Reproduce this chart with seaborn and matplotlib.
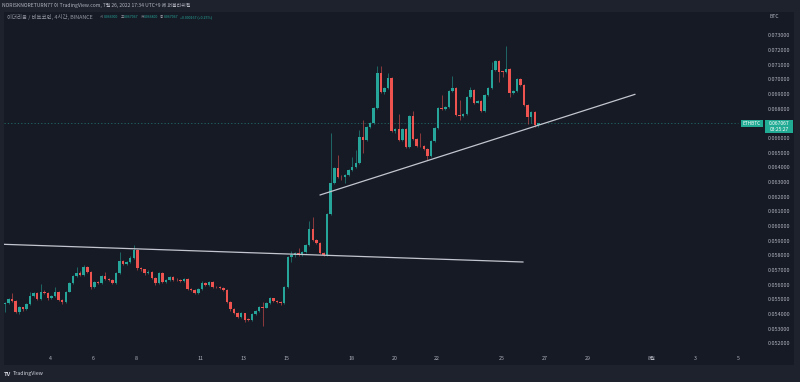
import numpy as np
import pandas as pd
import matplotlib
matplotlib.use("Agg")
import matplotlib.pyplot as plt
from matplotlib.patches import Rectangle
import seaborn as sns

# ---------------- data ----------------
start_time = "2022-07-01 21:00"   # first 4h candle (UTC+9)
n_candles = 150

opens = [0.05471, 0.05480, 0.05503, 0.05493, 0.05418, 0.05448, 0.05434, 0.05471, 0.05527, 0.05544,
         0.05505, 0.05555, 0.05544, 0.05510, 0.05525, 0.05555, 0.05498, 0.05486, 0.05555, 0.05616,
         0.05662, 0.05684, 0.05669, 0.05721, 0.05691, 0.05589, 0.05623, 0.05612, 0.05664, 0.05639,
         0.05634, 0.05616, 0.05680, 0.05764, 0.05742, 0.05755, 0.05783, 0.05839, 0.05714, 0.05708,
         0.05680, 0.05691, 0.05646, 0.05616, 0.05680, 0.05623, 0.05634, 0.05653, 0.05637, 0.05632,
         0.05630, 0.05639, 0.05573, 0.05566, 0.05548, 0.05571, 0.05612, 0.05600, 0.05623, 0.05589,
         0.05585, 0.05583, 0.05566, 0.05486, 0.05434, 0.05411, 0.05384, 0.05407, 0.05368, 0.05361,
         0.05402, 0.05425, 0.05449, 0.05445, 0.05475, 0.05510, 0.05493, 0.05486, 0.05475, 0.05589,
         0.05794, 0.05805, 0.05822, 0.05808, 0.05828, 0.05873, 0.05981, 0.05908, 0.05885, 0.05817,
         0.05805, 0.06085, 0.06299, 0.06397, 0.06340, 0.06335, 0.06351, 0.06385, 0.06408, 0.06435,
         0.06609, 0.06590, 0.06677, 0.06708, 0.06806, 0.07049, 0.06920, 0.06943, 0.07015, 0.06654,
         0.06665, 0.06590, 0.06663, 0.06544, 0.06754, 0.06597, 0.06549, 0.06547, 0.06527, 0.06483,
         0.06583, 0.06670, 0.06806, 0.06800, 0.06817, 0.06925, 0.06943, 0.06761, 0.06754, 0.06768,
         0.06886, 0.06931, 0.06845, 0.06856, 0.06790, 0.06897, 0.06947, 0.07068, 0.07129, 0.07056,
         0.07054, 0.07073, 0.06909, 0.06927, 0.07006, 0.06966, 0.06829, 0.06749, 0.06778, 0.06690]

closes = [0.05480, 0.05503, 0.05493, 0.05418, 0.05448, 0.05434, 0.05471, 0.05527, 0.05544, 0.05505,
          0.05555, 0.05544, 0.05510, 0.05525, 0.05555, 0.05498, 0.05486, 0.05555, 0.05616, 0.05662,
          0.05684, 0.05669, 0.05721, 0.05691, 0.05589, 0.05623, 0.05612, 0.05664, 0.05639, 0.05634,
          0.05616, 0.05680, 0.05764, 0.05742, 0.05755, 0.05783, 0.05839, 0.05714, 0.05708, 0.05680,
          0.05691, 0.05646, 0.05616, 0.05680, 0.05623, 0.05634, 0.05653, 0.05634, 0.05632, 0.05630,
          0.05639, 0.05573, 0.05566, 0.05548, 0.05571, 0.05612, 0.05600, 0.05623, 0.05589, 0.05585,
          0.05583, 0.05566, 0.05486, 0.05434, 0.05411, 0.05384, 0.05407, 0.05361, 0.05361, 0.05402,
          0.05425, 0.05449, 0.05445, 0.05475, 0.05510, 0.05493, 0.05486, 0.05475, 0.05589, 0.05794,
          0.05805, 0.05817, 0.05808, 0.05828, 0.05873, 0.05981, 0.05908, 0.05885, 0.05817, 0.05805,
          0.06085, 0.06299, 0.06397, 0.06340, 0.06335, 0.06351, 0.06385, 0.06408, 0.06435, 0.06609,
          0.06590, 0.06677, 0.06708, 0.06806, 0.07049, 0.06920, 0.06943, 0.07015, 0.06654, 0.06665,
          0.06590, 0.06663, 0.06544, 0.06754, 0.06597, 0.06549, 0.06547, 0.06527, 0.06483, 0.06583,
          0.06670, 0.06806, 0.06800, 0.06817, 0.06925, 0.06943, 0.06761, 0.06754, 0.06768, 0.06886,
          0.06931, 0.06845, 0.06856, 0.06790, 0.06897, 0.06947, 0.07068, 0.07129, 0.07056, 0.07054,
          0.07073, 0.06909, 0.06927, 0.07006, 0.06966, 0.06829, 0.06749, 0.06778, 0.06690, 0.067067]

highs = [0.05486, 0.05512, 0.05548, 0.05500, 0.05455, 0.05452, 0.05478, 0.05555, 0.05552, 0.05550,
         0.05607, 0.05566, 0.05550, 0.05530, 0.05590, 0.05562, 0.05505, 0.05562, 0.05622, 0.05670,
         0.05725, 0.05695, 0.05735, 0.05728, 0.05697, 0.05630, 0.05630, 0.05670, 0.05690, 0.05648,
         0.05640, 0.05686, 0.05828, 0.05770, 0.05762, 0.05800, 0.05873, 0.05845, 0.05722, 0.05712,
         0.05700, 0.05698, 0.05652, 0.05690, 0.05686, 0.05642, 0.05660, 0.05660, 0.05645, 0.05640,
         0.05646, 0.05645, 0.05580, 0.05572, 0.05578, 0.05630, 0.05620, 0.05630, 0.05628, 0.05595,
         0.05593, 0.05590, 0.05572, 0.05492, 0.05440, 0.05416, 0.05414, 0.05412, 0.05378, 0.05410,
         0.05432, 0.05460, 0.05486, 0.05482, 0.05518, 0.05515, 0.05500, 0.05492, 0.05596, 0.05800,
         0.05830, 0.05826, 0.05850, 0.05835, 0.05880, 0.06040, 0.06067, 0.05915, 0.05892, 0.05825,
         0.06092, 0.06636, 0.06405, 0.06488, 0.06348, 0.06358, 0.06392, 0.06476, 0.06522, 0.06658,
         0.06727, 0.06684, 0.06716, 0.06815, 0.07095, 0.07095, 0.06952, 0.07047, 0.07022, 0.06672,
         0.06768, 0.06670, 0.06670, 0.06762, 0.06788, 0.06604, 0.06640, 0.06555, 0.06534, 0.06590,
         0.06677, 0.06812, 0.06897, 0.06824, 0.06932, 0.07027, 0.06950, 0.06863, 0.06775, 0.06893,
         0.06954, 0.06938, 0.06863, 0.06862, 0.06904, 0.06954, 0.07125, 0.07135, 0.07136, 0.07062,
         0.07232, 0.07080, 0.06934, 0.07013, 0.07012, 0.06972, 0.06835, 0.06785, 0.06785, 0.067067]

lows = [0.05418, 0.05474, 0.05486, 0.05412, 0.05405, 0.05425, 0.05430, 0.05465, 0.05520, 0.05496,
        0.05500, 0.05538, 0.05500, 0.05503, 0.05520, 0.05490, 0.05474, 0.05480, 0.05550, 0.05610,
        0.05656, 0.05662, 0.05662, 0.05683, 0.05571, 0.05583, 0.05605, 0.05606, 0.05632, 0.05627,
        0.05608, 0.05610, 0.05674, 0.05734, 0.05736, 0.05748, 0.05777, 0.05700, 0.05695, 0.05672,
        0.05674, 0.05638, 0.05600, 0.05610, 0.05615, 0.05617, 0.05628, 0.05627, 0.05625, 0.05618,
        0.05624, 0.05566, 0.05558, 0.05540, 0.05542, 0.05565, 0.05593, 0.05594, 0.05582, 0.05578,
        0.05576, 0.05558, 0.05478, 0.05426, 0.05400, 0.05376, 0.05378, 0.05348, 0.05352, 0.05356,
        0.05396, 0.05418, 0.05320, 0.05440, 0.05470, 0.05486, 0.05478, 0.05462, 0.05470, 0.05582,
        0.05760, 0.05790, 0.05800, 0.05800, 0.05820, 0.05866, 0.05900, 0.05878, 0.05810, 0.05797,
        0.05798, 0.06078, 0.06292, 0.06333, 0.06320, 0.06300, 0.06345, 0.06378, 0.06400, 0.06428,
        0.06501, 0.06583, 0.06670, 0.06700, 0.06800, 0.06909, 0.06905, 0.06936, 0.06646, 0.06640,
        0.06582, 0.06584, 0.06536, 0.06538, 0.06590, 0.06540, 0.06540, 0.06520, 0.06454, 0.06476,
        0.06576, 0.06663, 0.06794, 0.06795, 0.06810, 0.06918, 0.06752, 0.06727, 0.06748, 0.06762,
        0.06880, 0.06838, 0.06840, 0.06782, 0.06784, 0.06890, 0.06940, 0.07060, 0.06988, 0.07020,
        0.07048, 0.06886, 0.06902, 0.06920, 0.06958, 0.06822, 0.06700, 0.06705, 0.06680, 0.06680]

price_ticks = [0.052, 0.053, 0.054, 0.055, 0.056, 0.057, 0.058, 0.059, 0.060, 0.061, 0.062,
               0.063, 0.064, 0.065, 0.066, 0.067, 0.068, 0.069, 0.070, 0.071, 0.072, 0.073]
day_ticks = [4, 6, 8, 11, 13, 15, 18, 20, 22, 25, 27, 29, 32, 34, 36]
day_labels = ["4", "6", "8", "11", "13", "15", "18", "20", "22", "25", "27", "29", "8월", "3", "5"]

# trend lines drawn by the author (day-of-July, price)
trend1_x = [1.79, 26.0]
trend1_y = [0.058782, 0.057573]
trend2_x = [16.54, 31.21]
trend2_y = [0.062147, 0.069020]

last_price = 0.067067
header_labels = ["시", "고", "저", "종"]
header_values = ["0.066900", "0.067067", "0.066800", "0.067067"]
header_change = "+0.000167 (+0.25%)"

# ---------------- style ----------------
sns.set_theme(style="dark")
plt.rcParams["font.family"] = ["Noto Sans CJK KR", "DejaVu Sans"]

FRAME = "#1e222d"
PANEL = "#161a25"
UP = "#26a69a"
DOWN = "#ef5350"
TXT = "#b2b5be"
TEAL = "#22ab94"

df = pd.DataFrame({
    "time": pd.date_range(start_time, periods=n_candles, freq="4h"),
    "open": opens, "high": highs, "low": lows, "close": closes,
})
df["day"] = (df["time"] - pd.Timestamp("2022-06-30")).dt.total_seconds() / 86400.0
df["up"] = df["close"] >= df["open"]

fig = plt.figure(figsize=(8, 3.82), dpi=100, facecolor=FRAME)
ax = fig.add_axes([4 / 800, 1 - 365 / 382, 790 / 800, 353 / 382])
ax.set_facecolor(PANEL)
ax.set_xlim(1.8305, 38.609)
ax.set_ylim(0.050543, 0.074638)
ax.set_xticks([])
ax.set_yticks([])
ax.grid(False)
for s in ax.spines.values():
    s.set_visible(False)

colors = np.where(df["up"], UP, DOWN)
# wicks
ax.vlines(df["day"], df["low"], df["high"], colors=colors, linewidth=0.7, alpha=0.55, zorder=2)
# bodies
body_lo = np.minimum(df["open"], df["close"])
body_h = np.maximum(np.abs(df["close"] - df["open"]), 0.00005)
ax.bar(df["day"], body_h, bottom=body_lo, width=0.115, color=colors, linewidth=0, zorder=3)

# last-price dotted line
ax.plot([1.8305, 36.0], [last_price, last_price], color=UP, lw=0.6, ls=(0, (1.5, 2.5)),
        alpha=0.6, zorder=1)

# trend lines
sns.lineplot(x=trend1_x, y=trend1_y, ax=ax, color="#c3c6ce", lw=0.9, zorder=4)
sns.lineplot(x=trend2_x, y=trend2_y, ax=ax, color="#c3c6ce", lw=0.9, zorder=4)

# price scale labels
ytr = ax.get_yaxis_transform()
for p in price_ticks:
    if abs(p - 0.067) < 1e-9:
        continue
    ax.text((779 - 4) / 790, p, f"{p:.6f}", transform=ytr, ha="center", va="center",
            fontsize=3.9, color=TXT)

# time labels
xtr = ax.get_xaxis_transform()
for d, lab in zip(day_ticks, day_labels):
    ax.text(d, (365 - 359) / 353, lab, transform=xtr, ha="center", va="center",
            fontsize=3.8, color=TXT)

# currency label
fig.text(769 / 800, 1 - 17 / 382, "BTC", ha="left", va="center", fontsize=3.6, color=TXT)

# last price boxes
def px_rect(x0, y0, x1, y1, color):
    fig.patches.append(Rectangle((x0 / 800, 1 - y1 / 382), (x1 - x0) / 800, (y1 - y0) / 382,
                                 transform=fig.transFigure, facecolor=color, edgecolor="none",
                                 zorder=5))

px_rect(741, 120, 763, 127, TEAL)
px_rect(765, 120, 793, 133, TEAL)
fig.text(752 / 800, 1 - 123.5 / 382, "ETHBTC", ha="center", va="center", fontsize=3.4,
         color="white", zorder=6)
fig.text(779 / 800, 1 - 123.3 / 382, f"{last_price:.6f}", ha="center", va="center", fontsize=3.6,
         color="white", zorder=6)
fig.text(779 / 800, 1 - 129.3 / 382, "03:25:27", ha="center", va="center", fontsize=3.6,
         color="white", zorder=6)

# title line (publish info)
fig.text(2 / 800, 1 - 6 / 382,
         "NORISKNORETURN77 이 TradingView.com, 7월 26, 2022 17:34 UTC+9 에 퍼블리쉬됨",
         ha="left", va="center", fontsize=3.6, color=TXT)

# legend line
ly = 1 - 17.5 / 382
fig.text(7 / 800, ly, "이더리움 / 비트코인, 4시간, BINANCE", ha="left", va="center",
         fontsize=3.9, color="#9598a1")
for lab, xl, val in zip(header_labels, [100, 120.5, 140.5, 160], header_values):
    fig.text(xl / 800, ly, lab, ha="left", va="center", fontsize=2.6, color="#9598a1")
    fig.text((xl + 3.6) / 800, ly, val, ha="left", va="center", fontsize=2.5, color=UP)
fig.text(180 / 800, ly, header_change, ha="left", va="center", fontsize=2.6, color=UP)

# TradingView logo text
fig.text(4 / 800, 1 - 374 / 382, "TV", ha="left", va="center", fontsize=4.2,
         color="#d1d4dc", fontweight="bold")
fig.text(13 / 800, 1 - 374 / 382, "TradingView", ha="left", va="center", fontsize=3.8,
         color="#d1d4dc")

fig.savefig("out.png", dpi=100, facecolor=FRAME)
